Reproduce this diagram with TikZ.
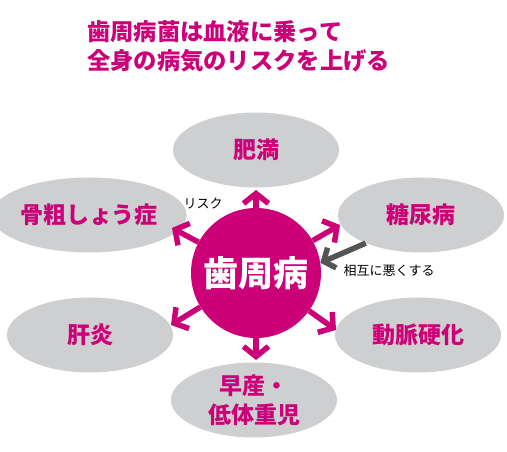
\documentclass[tikz,border=0pt]{standalone}
\usepackage{fontspec}
\usepackage{xcolor}
\usepackage{tikz}
\usetikzlibrary{shapes,arrows.meta,positioning}
\newfontfamily\jp{Noto Sans CJK JP}
\definecolor{perio}{RGB}{204, 0, 119}
\definecolor{cloud}{RGB}{206, 207, 209}
\definecolor{darkarrow}{RGB}{85, 85, 85}

\begin{document}
\begin{tikzpicture}[
    x=1pt, y=1pt,
    disease/.style={ellipse, fill=cloud, minimum width=166pt, minimum height=75pt, inner sep=0pt, align=center, text=perio, font=\jp\bfseries\fontsize{23}{29}\selectfont},
    hubnode/.style={circle, fill=perio, minimum size=130pt, inner sep=0pt, text=white, font=\jp\bfseries\fontsize{35}{35}\selectfont},
    note/.style={font=\jp\fontsize{13}{15}\selectfont, inner sep=0pt},
    risk/.style={-{Straight Barb[length=10pt, width=25pt]}, line width=5.5pt, color=perio},
    mutual/.style={-{Straight Barb[length=9pt, width=22pt]}, line width=5.5pt, color=darkarrow}
]
\useasboundingbox (0,0) rectangle (507,452);

% Title
\node[anchor=north west, align=left, inner sep=0pt, text=perio, font=\jp\bfseries\fontsize{23.3}{29.5}\selectfont] (title) at (87,432) {歯周病菌は血液に乗って\\全身の病気のリスクを上げる};

% Hub
\node[hubnode] (hub) at (256,179) {歯周病};

% Diseases
\node[disease] (obesity) at (256,302) {肥満};
\node[disease] (osteo) at (89,237) {骨粗しょう症};
\node[disease] (diab) at (421,237) {糖尿病};
\node[disease] (liver) at (90,117) {肝炎};
\node[disease] (arterio) at (418,117) {動脈硬化};
\node[disease] (birth) at (254,52) {早産・\\低体重児};

% Arrow tips
\coordinate (t-obesity) at (256,262);
\coordinate (t-osteo) at (172,224);
\coordinate (t-diab) at (340,227);
\coordinate (t-liver) at (171,127);
\coordinate (t-arterio) at (336,122);
\coordinate (t-birth) at (256,92);

% Arrows
\draw[risk] (hub) -- (t-obesity);
\draw[risk] (hub) -- (t-osteo);
\draw[risk] (hub) -- (t-diab);
\draw[risk] (hub) -- (t-liver);
\draw[risk] (hub) -- (t-arterio);
\draw[risk] (hub) -- (t-birth);
\draw[mutual] (diab.207) -- (hub.9);

% Labels
\node[note] (risklabel) at (203,248) {リスク};
\node[note] (mutuallabel) at (389,181) {相互に悪くする};

\end{tikzpicture}
\end{document}
